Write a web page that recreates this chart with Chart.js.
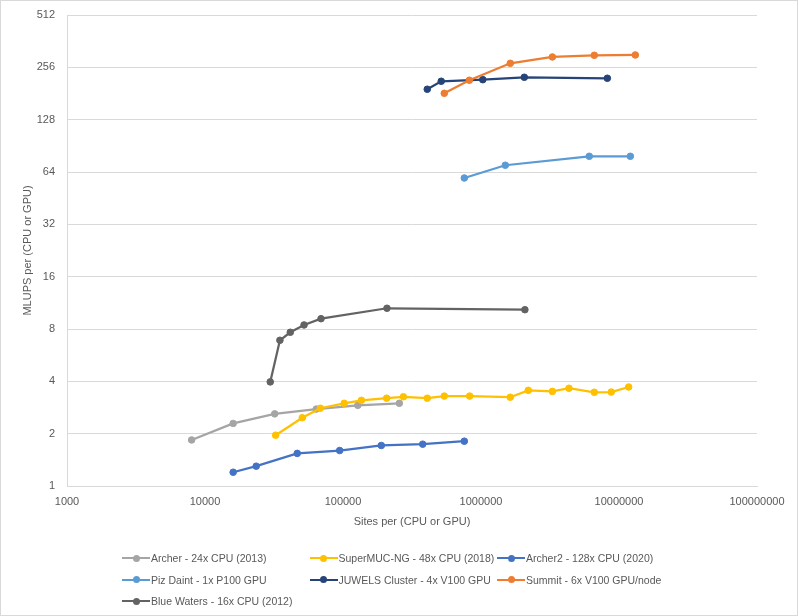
<!DOCTYPE html>
<html>
<head>
<meta charset="utf-8">
<script src="https://cdn.jsdelivr.net/npm/chart.js@4.4.1/dist/chart.umd.min.js"></script>
<style>
  html, body { margin: 0; padding: 0; background: #fff; }
  #wrap { position: relative; width: 798px; height: 616px; overflow: hidden; }
  #frame { position: absolute; left: 0; top: 0; width: 796px; height: 614px; border: 1px solid #D9D9D9; pointer-events: none; }
  #legend { position: absolute; left: 0; top: 0; width: 798px; height: 616px; pointer-events: none;
            font-family: "Liberation Sans", Arial, sans-serif; font-size: 10.5px; color: #595959; }
  .li { position: absolute; height: 14px; white-space: nowrap; }
  .li .ln { position: absolute; left: 0; top: 6px; width: 28px; height: 2.25px; }
  .li .dt { position: absolute; left: 10.5px; top: 3.6px; width: 7px; height: 7px; border-radius: 50%; }
  .li .tx { position: absolute; left: 29px; top: 0px; line-height: 14px; }
</style>
</head>
<body>
<div id="wrap">
  <canvas id="c" width="798" height="616"></canvas>
  <div id="legend"></div>
  <div id="frame"></div>
</div>
<script>
// ---- data ----
const seriesNames = [
  "Archer - 24x CPU (2013)",
  "SuperMUC-NG - 48x CPU (2018)",
  "Archer2 - 128x CPU (2020)",
  "Piz Daint - 1x P100 GPU",
  "JUWELS Cluster - 4x V100 GPU",
  "Summit - 6x V100 GPU/node",
  "Blue Waters - 16x CPU (2012)"
];
const seriesColors = ["#A5A5A5", "#FFC000", "#4472C4", "#5B9BD5", "#264478", "#ED7D31", "#636363"];

const archerX = [8000, 16000, 32000, 64000, 128000, 256000];
const archerY = [1.84, 2.29, 2.60, 2.77, 2.91, 2.99];

const superMucX = [32500, 50700, 68500, 102000, 136000, 207000, 274000, 408000, 542000, 828000,
                   1630000, 2200000, 3290000, 4340000, 6620000, 8790000, 11750000];
const superMucY = [1.96, 2.47, 2.80, 2.99, 3.11, 3.20, 3.26, 3.20, 3.29, 3.29,
                   3.24, 3.55, 3.50, 3.65, 3.46, 3.47, 3.71];

const archer2X = [16000, 23500, 46600, 94600, 189500, 378000, 757000];
const archer2Y = [1.20, 1.30, 1.54, 1.60, 1.71, 1.74, 1.81];

const pizDaintX = [757000, 1500000, 6090000, 12080000];
const pizDaintY = [59.1, 70.0, 78.8, 78.8];

const juwelsX = [408000, 515000, 1030000, 2060000, 8230000];
const juwelsY = [191.5, 212.9, 217.4, 224.4, 221.5];

const summitX = [542000, 823000, 1630000, 3290000, 6620000, 13130000];
const summitY = [181.5, 215.7, 270.0, 293.7, 300.3, 301.6];

const blueWatersX = [29700, 34900, 41500, 52200, 69300, 208300, 2080000];
const blueWatersY = [3.97, 6.89, 7.66, 8.44, 9.17, 10.53, 10.33];

const xTicks = [1000, 10000, 100000, 1000000, 10000000, 100000000];
const yTicks = [1, 2, 4, 8, 16, 32, 64, 128, 256, 512];

const xTitle = "Sites per (CPU or GPU)";
const yTitle = "MLUPS per (CPU or GPU)";

// ---- build chart ----
const seriesX = [archerX, superMucX, archer2X, pizDaintX, juwelsX, summitX, blueWatersX];
const seriesY = [archerY, superMucY, archer2Y, pizDaintY, juwelsY, summitY, blueWatersY];

const datasets = seriesNames.map((name, i) => ({
  label: name,
  data: seriesX[i].map((x, j) => ({ x: x, y: seriesY[i][j] })),
  borderColor: seriesColors[i],
  backgroundColor: seriesColors[i],
  pointBackgroundColor: seriesColors[i],
  pointBorderColor: seriesColors[i],
  borderWidth: 2.25,
  pointRadius: 3.3,
  pointBorderWidth: 1,
  tension: 0,
  fill: false,
  order: -i
}));

const FONT = { family: '"Liberation Sans", Arial, sans-serif', size: 11 };
const TXT = "#595959";
const GRID = "#D9D9D9";

new Chart(document.getElementById("c"), {
  type: "line",
  data: { datasets: datasets },
  options: {
    responsive: false,
    animation: false,
    devicePixelRatio: 1,
    layout: { padding: { top: 15, right: 41, left: 0, bottom: 80 } },
    plugins: { legend: { display: false }, tooltip: { enabled: false } },
    scales: {
      x: {
        type: "logarithmic",
        min: 1000, max: 100000000,
        afterBuildTicks: (s) => { s.ticks = xTicks.map(v => ({ value: v })); },
        afterFit: (s) => { s.height = 50; s.paddingLeft = 0; s.paddingRight = 0; },
        grid: { display: false, drawTicks: false },
        border: { display: true, color: GRID, width: 1 },
        ticks: { color: TXT, font: FONT, padding: 9.4, maxRotation: 0, autoSkip: false,
                 callback: (v) => String(v) },
        title: { display: true, text: xTitle, color: TXT, font: FONT, padding: { top: 0, bottom: 7.4 } }
      },
      y: {
        type: "logarithmic",
        min: 1, max: 512,
        afterBuildTicks: (s) => { s.ticks = yTicks.map(v => ({ value: v })); },
        afterFit: (s) => { s.width = 67; s.paddingTop = 0; s.paddingBottom = 0; },
        grid: { display: true, color: GRID, lineWidth: 1, drawTicks: false },
        border: { display: true, color: GRID, width: 1 },
        ticks: { color: TXT, font: FONT, padding: 12, autoSkip: false,
                 callback: (v) => String(v) },
        title: { display: true, text: yTitle, color: TXT, font: FONT, padding: { top: 21.4, bottom: 0 } }
      }
    }
  }
});

// ---- legend (Excel-like, column aligned) ----
const legend = document.getElementById("legend");
const colX = [122, 309.5, 497];
const rowY = [558, 579.5, 601];
seriesNames.forEach((name, i) => {
  const item = document.createElement("div");
  item.className = "li";
  item.style.left = colX[i % 3] + "px";
  item.style.top = (rowY[Math.floor(i / 3)] - 7) + "px";
  const ln = document.createElement("div"); ln.className = "ln"; ln.style.background = seriesColors[i];
  const dt = document.createElement("div"); dt.className = "dt"; dt.style.background = seriesColors[i];
  const tx = document.createElement("span"); tx.className = "tx"; tx.textContent = name;
  item.appendChild(ln); item.appendChild(dt); item.appendChild(tx);
  legend.appendChild(item);
});
</script>
</body>
</html>
